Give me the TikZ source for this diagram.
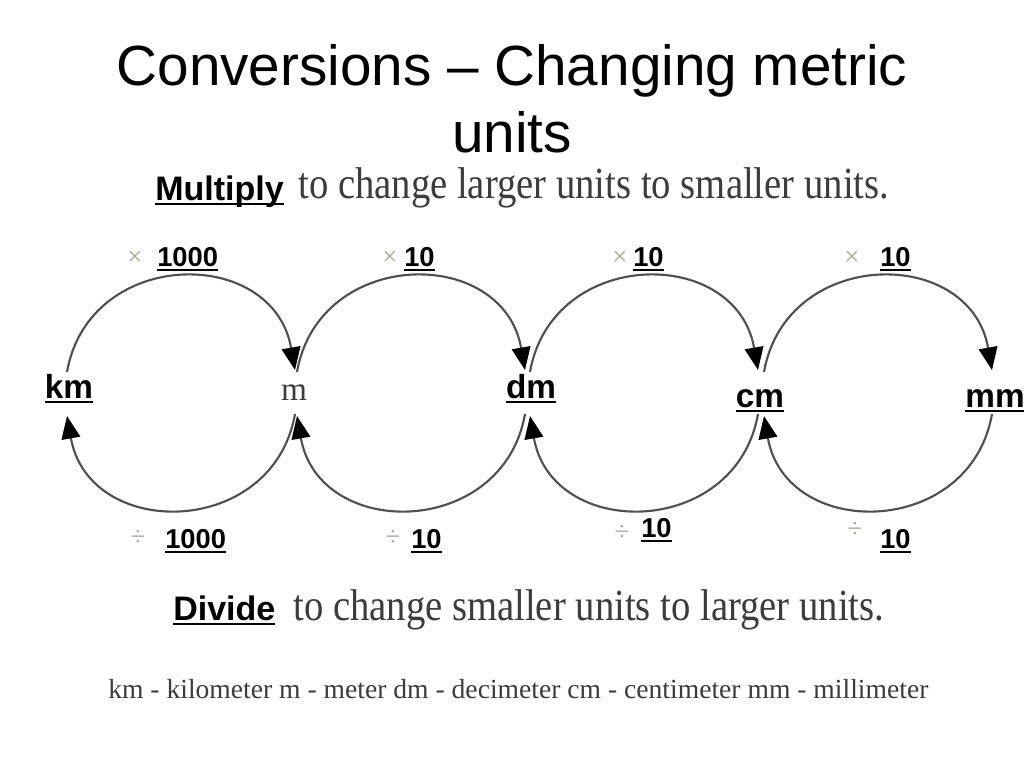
\documentclass[tikz,border=0pt]{standalone}
\usepackage{fontspec}
\setmainfont{Liberation Serif}
\newfontfamily\arialfont{Liberation Sans}
\usetikzlibrary{arrows.meta}
\definecolor{arcgray}{HTML}{505050}
\definecolor{textgray}{HTML}{3C3C3C}
\definecolor{signgray}{HTML}{A3A894}
\newcommand{\ulword}[1]{\setbox0\hbox{#1}\rlap{\rule[-3.6pt]{\wd0}{1.4pt}}\box0}
\newcommand{\tallword}[1]{\scalebox{1}[1.15]{#1}}
\begin{document}
\begin{tikzpicture}[x=0.75pt,y=0.75pt,
    title/.style={anchor=base, inner sep=0, font=\arialfont\fontsize{42.5}{50}\selectfont},
    keyword/.style={anchor=base west, inner sep=0, font=\arialfont\bfseries\fontsize{25.5}{30}\selectfont},
    phrase/.style={anchor=base west, inner sep=0, textgray, font=\fontsize{29}{34}\selectfont},
    unit/.style={anchor=base, inner sep=0, font=\arialfont\bfseries\fontsize{25}{30}\selectfont},
    number/.style={anchor=base west, inner sep=0, font=\arialfont\bfseries\fontsize{20.5}{24}\selectfont},
    sign/.style={inner sep=0, signgray, font=\fontsize{20}{24}\selectfont},
    circarrow/.style={arcgray, line width=1.6pt, -{Triangle[length=17pt,width=14pt,color=black]}}]
    \fill[white] (0,0) rectangle (1024,-768);
    \useasboundingbox (0,0) rectangle (1024,-768);
    \node[title] (t1) at (512,-85) {Conversions – Changing metric};
    \node[title] (t2) at (512,-152) {units};
    \node[keyword] (mul) at (155,-200) {\ulword{Multiply}};
    \node[phrase] (mulnote) at (298,-198) {\tallword{to change larger units to smaller units.}};
    \node[unit] (km) at (69,-398) {\ulword{km}};
    \node[anchor=base, inner sep=0, textgray, font=\fontsize{25}{28}\selectfont] (m) at (294,-400) {m};
    \node[unit] (dm) at (531,-398) {\ulword{dm}};
    \node[unit] (cm) at (760,-407) {\ulword{cm}};
    \node[unit] (mm) at (995,-407) {\ulword{mm}};
    \foreach \sx/\nx/\val [count=\i] in {135/157/1000, 390/404/10, 620/633/10, 852/880/10} {
        \node[sign] (times\i) at (\sx,-258) {×};
        \node[number] (up\i) at (\nx,-266) {\ulword{\val}};
    }
    \foreach \sx/\nx/\sy/\ny/\val [count=\i] in {138/165/538/548/1000, 393/411/538/548/10, 622/641/533/537/10, 855/880/530/548/10} {
        \node[sign] (div\i) at (\sx,-\sy) {÷};
        \node[number] (down\i) at (\nx,-\ny) {\ulword{\val}};
    }
    \foreach \cx [count=\i] in {181,411,644,878} {
        \coordinate (tl\i) at (\cx-114,-372);
        \coordinate (tr\i) at (\cx+114,-370);
        \coordinate (br\i) at (\cx+114,-414);
        \coordinate (bl\i) at (\cx-114,-416);
        \draw[circarrow] (tl\i) to[out=80,in=100,looseness=1.42] (tr\i);
        \draw[circarrow] (br\i) to[out=-100,in=-80,looseness=1.42] (bl\i);
    }
    \node[keyword] (divide) at (173,-620) {\ulword{Divide}};
    \node[phrase] (divnote) at (293,-620) {\tallword{to change smaller units to larger units.}};
    \node[anchor=base west, inner sep=0, textgray, font=\fontsize{20.7}{24}\selectfont] (legend) at (108,-698)
        {km - kilometer m - meter dm - decimeter cm - centimeter mm - millimeter};
\end{tikzpicture}
\end{document}
